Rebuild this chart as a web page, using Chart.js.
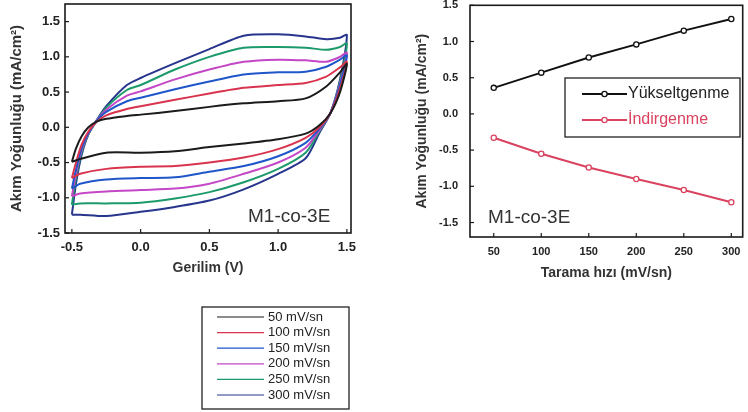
<!DOCTYPE html>
<html><head><meta charset="utf-8">
<script src="https://cdn.jsdelivr.net/npm/chart.js@4/dist/chart.umd.min.js"></script>
<style>
html,body{margin:0;padding:0;background:#fff;width:748px;height:412px;overflow:hidden}
#c1{position:absolute;left:0;top:0;width:370px;height:412px}
#c2{position:absolute;left:380px;top:0;width:368px;height:300px}
</style></head><body>
<canvas id="c1" width="370" height="412"></canvas>
<canvas id="c2" width="368" height="300"></canvas>
<script>
// ---------- Left panel: cyclic voltammograms ----------
const voltage = [-0.5,-0.47,-0.43,-0.38,-0.32,-0.25,-0.1,0,0.25,0.5,0.75,1.0,1.2,1.35,1.45,1.5,
                 1.45,1.38,1.3,1.2,1.0,0.75,0.5,0.25,0,-0.25,-0.44,-0.5];
const cv50  = [-0.49,-0.3,-0.13,0.0,0.08,0.12,0.16,0.18,0.23,0.29,0.34,0.37,0.41,0.58,0.78,0.9,
               0.5,0.2,0.03,-0.09,-0.17,-0.23,-0.28,-0.34,-0.36,-0.36,-0.45,-0.49];
const cv100 = [-0.72,-0.5,-0.25,-0.06,0.08,0.17,0.26,0.3,0.39,0.48,0.56,0.6,0.63,0.72,0.85,0.93,
               0.55,0.2,0.0,-0.15,-0.31,-0.43,-0.5,-0.55,-0.56,-0.59,-0.66,-0.72];
const cv150 = [-0.87,-0.6,-0.3,-0.08,0.09,0.22,0.37,0.42,0.54,0.65,0.75,0.78,0.79,0.86,0.96,1.02,
               0.6,0.2,-0.02,-0.22,-0.41,-0.55,-0.63,-0.71,-0.72,-0.74,-0.8,-0.87];
const cv200 = [-0.98,-0.66,-0.33,-0.09,0.09,0.25,0.45,0.51,0.68,0.82,0.93,0.96,0.95,0.93,1.0,1.06,
               0.62,0.2,-0.04,-0.29,-0.5,-0.66,-0.8,-0.87,-0.89,-0.91,-0.94,-0.98];
const cv250 = [-1.1,-0.72,-0.36,-0.1,0.09,0.28,0.53,0.6,0.82,1.0,1.13,1.14,1.13,1.1,1.14,1.19,
               0.65,0.2,-0.06,-0.36,-0.59,-0.78,-0.92,-1.01,-1.07,-1.08,-1.08,-1.1];
const cv300 = [-1.24,-0.8,-0.4,-0.1,0.1,0.3,0.6,0.7,0.91,1.11,1.3,1.32,1.29,1.25,1.27,1.31,
               0.68,0.2,-0.08,-0.44,-0.66,-0.88,-1.04,-1.13,-1.2,-1.26,-1.24,-1.24];
const cvLabels = ['50 mV/sn','100 mV/sn','150 mV/sn','200 mV/sn','250 mV/sn','300 mV/sn'];
const cvSeries = [cv50, cv100, cv150, cv200, cv250, cv300];
const cvColors = ['#1b1b1b','#d9344e','#1f56c9','#c447c6','#1c9a6b','#27358c'];
const xTicksCV = [-0.5, 0.0, 0.5, 1.0, 1.5];
const yTicks = [-1.5, -1.0, -0.5, 0.0, 0.5, 1.0, 1.5];

// ---------- Right panel: peak current vs scan rate ----------
const scanRates = [50, 100, 150, 200, 250, 300];
const oxidation = [0.36, 0.57, 0.78, 0.96, 1.15, 1.31];
const reduction = [-0.33, -0.55, -0.74, -0.90, -1.05, -1.22];
const xTicksRate = [50, 100, 150, 200, 250, 300];

const noPad = s => { s.paddingTop = 0; s.paddingBottom = 0; s.paddingLeft = 0; s.paddingRight = 0; };

const framePlugin = {
  id: 'frame',
  afterDraw(chart) {
    const {ctx, chartArea: a} = chart;
    ctx.save();
    ctx.strokeStyle = '#1a1a1a';
    ctx.lineWidth = 1.6;
    ctx.strokeRect(a.left, a.top, a.right - a.left, a.bottom - a.top);
    ctx.lineWidth = 1.2;
    const xs = chart.scales.x, ys = chart.scales.y;
    xs.ticks.forEach(t => {
      const px = xs.getPixelForValue(t.value);
      ctx.beginPath(); ctx.moveTo(px, a.bottom); ctx.lineTo(px, a.bottom - 4); ctx.stroke();
    });
    ys.ticks.forEach(t => {
      const py = ys.getPixelForValue(t.value);
      ctx.beginPath(); ctx.moveTo(a.left, py); ctx.lineTo(a.left + 4, py); ctx.stroke();
    });
    ctx.restore();
  }
};

const tickFontL = {family: 'Liberation Sans, Arial, sans-serif', size: 13, weight: 'bold'};
const tickFontR = {family: 'Liberation Sans, Arial, sans-serif', size: 11, weight: 'bold'};
const titleFont = (s) => ({family: 'Liberation Sans, Arial, sans-serif', size: s, weight: 'bold'});

// Left chart
new Chart(document.getElementById('c1'), {
  type: 'line',
  data: {
    datasets: cvSeries.map((s, i) => ({
      label: cvLabels[i],
      data: voltage.map((v, k) => ({x: v, y: s[k]})),
      borderColor: cvColors[i],
      borderWidth: 2,
      pointRadius: 0,
      tension: 0.25,
      fill: false
    }))
  },
  options: {
    responsive: false, animation: false, devicePixelRatio: 1,
    layout: {padding: {top: 4, right: 19, bottom: 134, left: 6}},
    plugins: {legend: {display: false}, tooltip: {enabled: false}},
    scales: {
      x: {
        type: 'linear', min: -0.55, max: 1.53,
        afterBuildTicks: s => { s.ticks = xTicksCV.map(v => ({value: v})); },
        afterFit: s => { s.height = 45; noPad(s); },
        grid: {display: false, drawTicks: false},
        border: {display: false},
        ticks: {padding: 7, color: '#222', font: tickFontL, callback: v => v.toFixed(1)},
        title: {display: true, text: 'Gerilim (V)', color: '#333', font: titleFont(14), padding: {top: 2, bottom: 1}}
      },
      y: {
        type: 'linear', min: -1.5, max: 1.75,
        afterBuildTicks: s => { s.ticks = yTicks.map(v => ({value: v})); },
        afterFit: s => { s.width = 59; noPad(s); },
        grid: {display: false, drawTicks: false},
        border: {display: false},
        ticks: {padding: 5, color: '#222', font: tickFontL, callback: v => v.toFixed(1)},
        title: {display: true, text: 'Akım Yoğunluğu (mA/cm²)', color: '#333', font: titleFont(15), padding: {top: 2, bottom: 2}}
      }
    }
  },
  plugins: [framePlugin, {
    id: 'extrasLeft',
    afterDraw(chart) {
      const ctx = chart.ctx;
      ctx.save();
      ctx.fillStyle = '#333';
      ctx.font = '19px "Liberation Sans", Arial, sans-serif';
      ctx.textAlign = 'left'; ctx.textBaseline = 'middle';
      ctx.fillText('M1-co-3E', 248, 217);
      // legend box
      ctx.strokeStyle = '#222'; ctx.lineWidth = 1.3;
      ctx.strokeRect(202, 307, 147, 102);
      ctx.font = '13px "Liberation Sans", Arial, sans-serif';
      chart.data.datasets.forEach((d, i) => {
        const y = 317 + i * 15.6;
        ctx.strokeStyle = d.borderColor; ctx.lineWidth = 1.2;
        ctx.beginPath(); ctx.moveTo(217, y); ctx.lineTo(264, y); ctx.stroke();
        ctx.fillStyle = '#222';
        ctx.fillText(d.label, 268, y);
      });
      ctx.restore();
    }
  }]
});

// Right chart
new Chart(document.getElementById('c2'), {
  type: 'line',
  data: {
    datasets: [
      {label: 'Yükseltgenme', data: scanRates.map((x, k) => ({x, y: oxidation[k]})),
       borderColor: '#111', backgroundColor: '#fff', borderWidth: 2, pointRadius: 2.6,
       pointBorderWidth: 1.3, pointBackgroundColor: '#fff', tension: 0},
      {label: 'İndirgenme', data: scanRates.map((x, k) => ({x, y: reduction[k]})),
       borderColor: '#d9435f', backgroundColor: '#fff', borderWidth: 2, pointRadius: 2.6,
       pointBorderWidth: 1.3, pointBackgroundColor: '#fff', tension: 0}
    ]
  },
  options: {
    responsive: false, animation: false, devicePixelRatio: 1,
    layout: {padding: {top: 5, right: 5, bottom: 18, left: 32}},
    plugins: {legend: {display: false}, tooltip: {enabled: false}},
    scales: {
      x: {
        type: 'linear', min: 25, max: 312,
        afterBuildTicks: s => { s.ticks = xTicksRate.map(v => ({value: v})); },
        afterFit: s => { s.height = 45; noPad(s); },
        grid: {display: false, drawTicks: false},
        border: {display: false},
        ticks: {padding: 8, color: '#222', font: tickFontR},
        title: {display: true, text: 'Tarama hızı (mV/sn)', color: '#333', font: titleFont(14), padding: {top: 2, bottom: 0}}
      },
      y: {
        type: 'linear', min: -1.7, max: 1.5,
        afterBuildTicks: s => { s.ticks = yTicks.map(v => ({value: v})); },
        afterFit: s => { s.width = 58; noPad(s); },
        grid: {display: false, drawTicks: false},
        border: {display: false},
        ticks: {padding: 12, color: '#222', font: tickFontR, callback: v => v.toFixed(1)},
        title: {display: true, text: 'Akım Yoğunluğu (mA/cm²)', color: '#333', font: titleFont(14), padding: {top: 2, bottom: 2}}
      }
    }
  },
  plugins: [framePlugin, {
    id: 'extrasRight',
    afterDraw(chart) {
      const ctx = chart.ctx;
      ctx.save();
      ctx.fillStyle = '#333';
      ctx.font = '19px "Liberation Sans", Arial, sans-serif';
      ctx.textAlign = 'left'; ctx.textBaseline = 'middle';
      ctx.fillText('M1-co-3E', 108, 218);
      // legend box (canvas offset 380)
      ctx.strokeStyle = '#222'; ctx.lineWidth = 1.3;
      ctx.strokeRect(185, 78, 175, 59);
      ctx.font = '16px "Liberation Sans", Arial, sans-serif';
      chart.data.datasets.forEach((d, i) => {
        const y = 94 + i * 26;
        ctx.strokeStyle = d.borderColor; ctx.lineWidth = 2.2;
        ctx.beginPath(); ctx.moveTo(202, y); ctx.lineTo(247, y); ctx.stroke();
        ctx.fillStyle = '#fff'; ctx.lineWidth = 1.3;
        ctx.beginPath(); ctx.arc(224.5, y, 2.6, 0, Math.PI * 2); ctx.fill(); ctx.stroke();
        ctx.fillStyle = i === 0 ? '#222' : '#d9435f';
        ctx.fillText(d.label, 248, y);
      });
      ctx.restore();
    }
  }]
});
</script>
</body></html>
